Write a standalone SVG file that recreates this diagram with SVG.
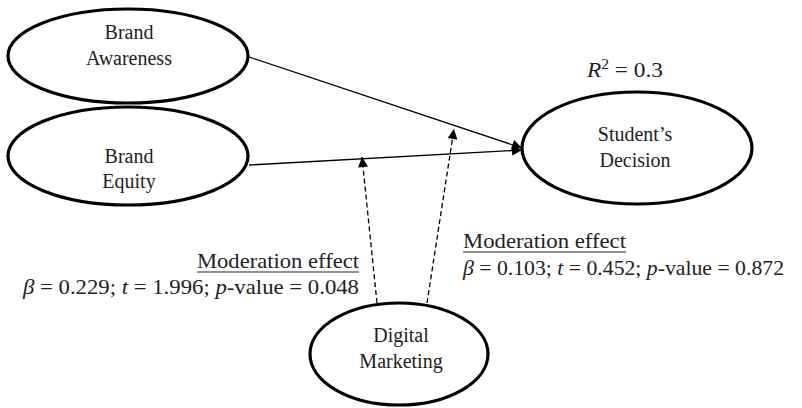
<svg xmlns="http://www.w3.org/2000/svg" width="802" height="408" viewBox="0 0 802 408">
  <defs>
    <marker id="arrow" viewBox="0 0 10 10" refX="10" refY="5" markerWidth="12" markerHeight="10" markerUnits="userSpaceOnUse" orient="auto">
      <path d="M0,0 L10,5 L0,10 z" fill="#000"/>
    </marker>
    <style>
      .node ellipse { fill: #fff; stroke: #000; stroke-width: 3.2; }
      text { font-family: "Liberation Serif", "Times New Roman", "DejaVu Serif", serif; fill: #222; }
      .lbl { font-size: 20px; text-anchor: middle; }
      .stat { font-size: 21px; }
      .solid { stroke: #000; stroke-width: 1.3; fill: none; marker-end: url(#arrow); }
      .dashed { stroke: #000; stroke-width: 1.3; fill: none; stroke-dasharray: 5 3; marker-end: url(#arrow); }
    </style>
  </defs>

  <!-- paths between constructs -->
  <g id="connectors">
    <line class="solid" x1="249" y1="57" x2="522" y2="148"/>
    <line class="solid" x1="249" y1="165" x2="522" y2="150"/>
    <line class="dashed" x1="377" y1="303" x2="362" y2="157"/>
    <line class="dashed" x1="427" y1="303" x2="454" y2="129"/>
  </g>

  <g id="brand-awareness" class="node">
    <ellipse cx="128" cy="56" rx="120" ry="47"/>
    <text class="lbl" x="129" y="39">Brand</text>
    <text class="lbl" x="129" y="65">Awareness</text>
  </g>

  <g id="brand-equity" class="node">
    <ellipse cx="128" cy="156" rx="120" ry="49"/>
    <text class="lbl" x="129" y="163">Brand</text>
    <text class="lbl" x="129" y="188">Equity</text>
  </g>

  <g id="students-decision" class="node">
    <ellipse cx="637" cy="148" rx="115" ry="56"/>
    <text class="lbl" x="635" y="141">Student’s</text>
    <text class="lbl" x="635" y="167">Decision</text>
  </g>

  <g id="digital-marketing" class="node">
    <ellipse cx="399" cy="354" rx="89" ry="51"/>
    <text class="lbl" x="401" y="342">Digital</text>
    <text class="lbl" x="401" y="368">Marketing</text>
  </g>

  <!-- explained variance -->
  <text class="stat" x="587" y="77" textLength="76" lengthAdjust="spacingAndGlyphs"><tspan font-style="italic">R</tspan><tspan font-size="14" dy="-8">2</tspan><tspan dy="8"> = 0.3</tspan></text>

  <!-- moderation effect: Brand Equity -->
  <g id="moderation-equity">
    <text class="stat" x="197" y="268" textLength="162" lengthAdjust="spacingAndGlyphs">Moderation effect</text>
    <line x1="197" y1="272" x2="359" y2="272" stroke="#222" stroke-width="1.2"/>
    <text class="stat" x="23" y="294" textLength="336" lengthAdjust="spacingAndGlyphs"><tspan font-style="italic">β</tspan> = 0.229; <tspan font-style="italic">t</tspan> = 1.996; <tspan font-style="italic">p</tspan>-value = 0.048</text>
  </g>

  <!-- moderation effect: Brand Awareness -->
  <g id="moderation-awareness">
    <text class="stat" x="463" y="248" textLength="163" lengthAdjust="spacingAndGlyphs">Moderation effect</text>
    <line x1="463" y1="252" x2="626" y2="252" stroke="#222" stroke-width="1.2"/>
    <text class="stat" x="463" y="275" textLength="321" lengthAdjust="spacingAndGlyphs"><tspan font-style="italic">β</tspan> = 0.103; <tspan font-style="italic">t</tspan> = 0.452; <tspan font-style="italic">p</tspan>-value = 0.872</text>
  </g>
</svg>
